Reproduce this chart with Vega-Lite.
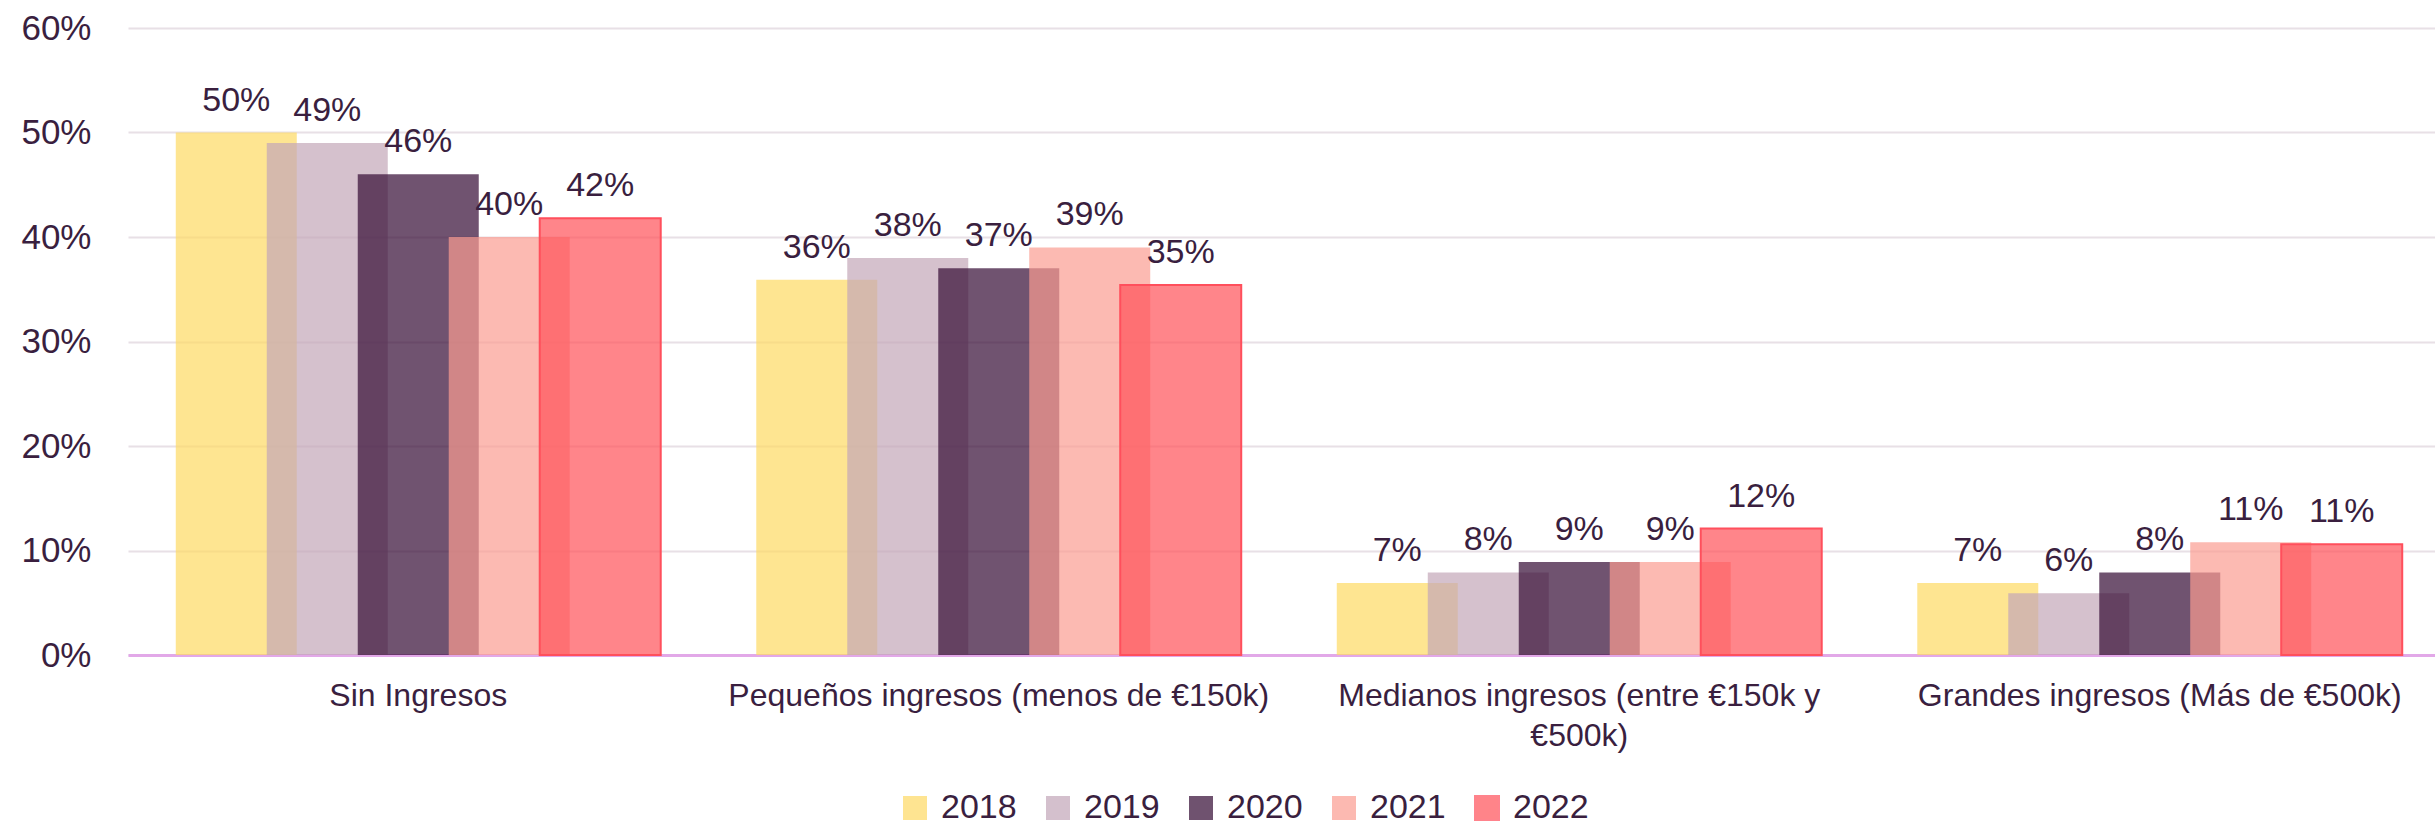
{
  "$schema": "https://vega.github.io/schema/vega-lite/v6.json",
  "width": 2322,
  "height": 627,
  "autosize": {"type": "none"},
  "padding": {"left": 128, "top": 28, "right": 0, "bottom": 171},
  "background": "white",
  "config": {"view": {"stroke": null}, "font": "Liberation Sans"},
  "data": {
    "values": [
      {"categoria": "Sin Ingresos", "year": "2018", "value": 0.50},
      {"categoria": "Sin Ingresos", "year": "2019", "value": 0.49},
      {"categoria": "Sin Ingresos", "year": "2020", "value": 0.46},
      {"categoria": "Sin Ingresos", "year": "2021", "value": 0.40},
      {"categoria": "Sin Ingresos", "year": "2022", "value": 0.418},
      {"categoria": "Pequeños ingresos (menos de €150k)", "year": "2018", "value": 0.359},
      {"categoria": "Pequeños ingresos (menos de €150k)", "year": "2019", "value": 0.38},
      {"categoria": "Pequeños ingresos (menos de €150k)", "year": "2020", "value": 0.37},
      {"categoria": "Pequeños ingresos (menos de €150k)", "year": "2021", "value": 0.39},
      {"categoria": "Pequeños ingresos (menos de €150k)", "year": "2022", "value": 0.354},
      {"categoria": "Medianos ingresos (entre €150k y €500k)", "year": "2018", "value": 0.069},
      {"categoria": "Medianos ingresos (entre €150k y €500k)", "year": "2019", "value": 0.079},
      {"categoria": "Medianos ingresos (entre €150k y €500k)", "year": "2020", "value": 0.089},
      {"categoria": "Medianos ingresos (entre €150k y €500k)", "year": "2021", "value": 0.089},
      {"categoria": "Medianos ingresos (entre €150k y €500k)", "year": "2022", "value": 0.121},
      {"categoria": "Grandes ingresos (Más de €500k)", "year": "2018", "value": 0.069},
      {"categoria": "Grandes ingresos (Más de €500k)", "year": "2019", "value": 0.059},
      {"categoria": "Grandes ingresos (Más de €500k)", "year": "2020", "value": 0.079},
      {"categoria": "Grandes ingresos (Más de €500k)", "year": "2021", "value": 0.108},
      {"categoria": "Grandes ingresos (Más de €500k)", "year": "2022", "value": 0.106}
    ]
  },
  "encoding": {
    "x": {
      "field": "categoria",
      "type": "nominal",
      "sort": null,
      "scale": {"paddingInner": 0, "paddingOuter": 0},
      "axis": {
        "title": null,
        "labelAngle": 0,
        "labelFont": "Liberation Sans",
        "labelFontSize": 32,
        "labelColor": "#3A1F3F",
        "labelPadding": 25,
        "labelLimit": 0,
        "labelLineHeight": 40,
        "labelExpr": "datum.label == 'Medianos ingresos (entre €150k y €500k)' ? ['Medianos ingresos (entre €150k y', '€500k)'] : datum.label",
        "ticks": false,
        "domainColor": "#E2A8E8",
        "domainWidth": 3,
        "grid": false
      }
    },
    "xOffset": {
      "field": "year",
      "type": "nominal",
      "sort": null,
      "scale": {"paddingInner": 0, "paddingOuter": 0.69}
    },
    "y": {
      "field": "value",
      "type": "quantitative",
      "scale": {"domain": [0, 0.6], "nice": false},
      "axis": {
        "title": null,
        "values": [0, 0.1, 0.2, 0.3, 0.4, 0.5, 0.6],
        "format": ".0%",
        "labelFont": "Liberation Sans",
        "labelFontSize": 35,
        "labelColor": "#3A1F3F",
        "labelPadding": 37,
        "ticks": false,
        "domain": false,
        "grid": true,
        "gridColor": "#E8E0E6",
        "gridWidth": 2
      }
    }
  },
  "layer": [
    {
      "mark": {"type": "bar", "width": 121, "fillOpacity": 0.7, "strokeWidth": 2},
      "encoding": {
        "fill": {
          "field": "year",
          "type": "nominal",
          "scale": {
            "domain": ["2018", "2019", "2020", "2021", "2022"],
            "range": ["#FEDA63", "#C3A6B8", "#330A33", "#FB9C91", "#FF5158"]
          },
          "legend": {
            "title": null,
            "orient": "none",
            "legendX": 770,
            "legendY": 763,
            "direction": "horizontal",
            "symbolType": "square",
            "symbolSize": 576,
            "symbolOpacity": 0.7,
            "symbolStrokeWidth": 2,
            "labelFont": "Liberation Sans",
            "labelFontSize": 34,
            "labelColor": "#3A1F3F",
            "labelOffset": 9,
            "columnPadding": 24
          }
        },
        "stroke": {
          "field": "year",
          "type": "nominal",
          "scale": {
            "domain": ["2018", "2019", "2020", "2021", "2022"],
            "range": ["rgba(0,0,0,0)", "rgba(0,0,0,0)", "rgba(0,0,0,0)", "rgba(0,0,0,0)", "#FF4F5C"]
          }
        }
      }
    },
    {
      "mark": {
        "type": "text",
        "baseline": "alphabetic",
        "dy": -22,
        "fontSize": 34,
        "font": "Liberation Sans",
        "color": "#3A1F3F"
      },
      "encoding": {
        "text": {"field": "value", "type": "quantitative", "format": ".0%"}
      }
    }
  ]
}
